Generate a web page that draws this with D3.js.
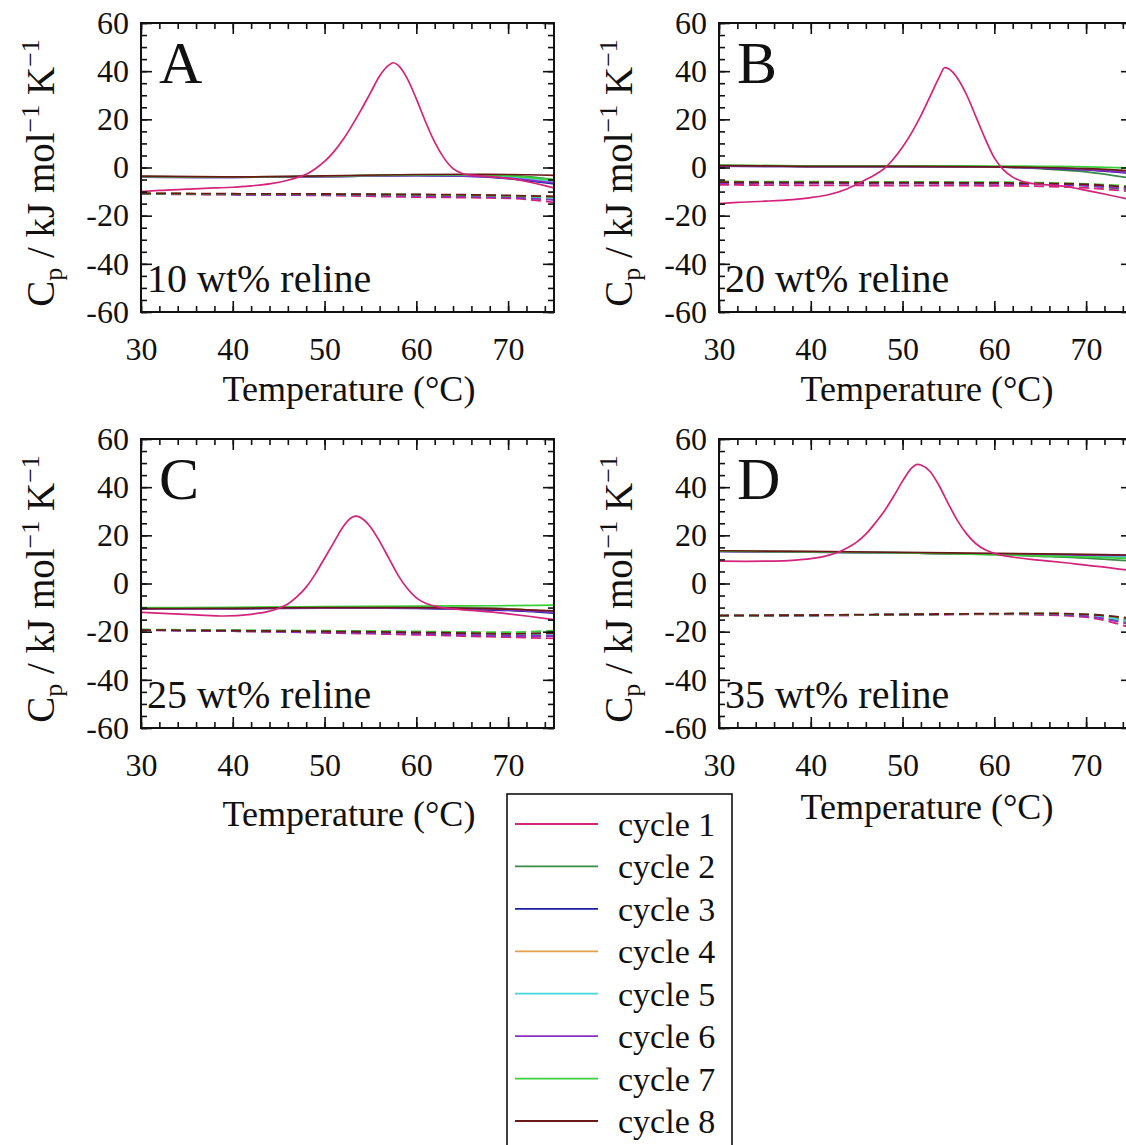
<!DOCTYPE html>
<html>
<head>
<meta charset="utf-8">
<script src="https://cdn.jsdelivr.net/npm/d3@7"></script>
<style>
body { margin: 0; background: #fff; }
text { font-family: "Liberation Serif", "Times New Roman", serif; fill: #111; }
</style>
</head>
<body>
<script>
// ---- data ----
var cycles = ["cycle 1", "cycle 2", "cycle 3", "cycle 4", "cycle 5", "cycle 6", "cycle 7", "cycle 8"];
var panelLetters = ["A", "B", "C", "D"];
var panelNotes = ["10 wt% reline", "20 wt% reline", "25 wt% reline", "35 wt% reline"];
var xTicks = [30, 40, 50, 60, 70];
var yTicks = [-60, -40, -20, 0, 20, 40, 60];

// temperatures for the flat curves (all cycles except heating of cycle 1)
var tempFlat = [30, 40, 50, 60, 65, 70, 75];

// panel A, 10 wt%
var tempPeakA = [30, 32, 35, 38, 40, 42, 44, 46, 47, 48, 49, 50, 51, 52, 53, 54, 55, 56, 57, 57.5, 58, 59, 60, 61, 62, 63, 64, 65, 66, 68, 70, 72, 74, 75];
var heat1A = [-10, -9.5, -9, -8.5, -8.2, -7.6, -6.8, -5.3, -4.2, -2.8, -0.5, 2.5, 6.5, 11.5, 17.5, 24, 31, 38, 42.5, 43.5, 42.5, 37, 28.5, 19, 10.5, 4, -0.5, -2.5, -3.2, -3.8, -4.5, -5.8, -7.5, -8.5];
var heatA = [
  [-3.8, -4.0, -3.6, -3.0, -3.0, -3.3, -5.0],
  [-4.0, -4.1, -3.8, -3.4, -3.6, -4.6, -6.8],
  [-3.9, -4.0, -3.7, -3.2, -3.2, -3.8, -5.5],
  [-3.9, -4.0, -3.7, -3.2, -3.3, -4.0, -6.0],
  [-4.0, -4.1, -3.8, -3.3, -3.5, -4.4, -6.4],
  [-3.8, -4.0, -3.6, -3.1, -3.1, -3.5, -5.2],
  [-3.6, -3.9, -3.5, -2.9, -2.8, -2.9, -3.3]
];
var coolA = [
  [-11.0, -11.3, -11.6, -12.3, -12.5, -12.8, -14.5],
  [-10.8, -11.0, -11.1, -11.3, -11.5, -11.8, -12.3],
  [-10.9, -11.1, -11.2, -11.5, -11.7, -12.0, -12.8],
  [-10.8, -11.0, -11.1, -11.4, -11.6, -11.9, -12.5],
  [-10.9, -11.1, -11.2, -11.5, -11.7, -12.1, -13.0],
  [-10.9, -11.2, -11.4, -11.8, -12.0, -12.4, -13.5],
  [-10.8, -11.0, -11.1, -11.3, -11.5, -11.8, -12.2],
  [-10.7, -10.9, -11.0, -11.2, -11.3, -11.6, -12.0]
];

// panel B, 20 wt%
var tempPeakB = [30, 32, 35, 38, 40, 42, 44, 45, 46, 47, 48, 49, 50, 51, 52, 53, 54, 54.6, 55, 56, 57, 58, 59, 60, 61, 62, 63, 64, 66, 68, 70, 72, 75];
var heat1B = [-15, -14.5, -14, -13.3, -12.5, -11.2, -8.8, -7, -5, -3, -0.5, 3.5, 8.5, 14.5, 21.5, 29.5, 37.5, 41.5, 41, 37, 30, 21, 12, 4, -1, -4, -5.7, -6.6, -7.3, -8, -9.5, -11, -13.5];
var heatB = [
  [0.8, 0.5, 0.5, 0.3, -0.5, -1.8, -4.5],
  [0.6, 0.4, 0.4, 0.2, -0.3, -1.0, -2.5],
  [0.7, 0.5, 0.5, 0.3, 0.0, -0.5, -1.5],
  [0.7, 0.5, 0.5, 0.3, 0.0, -0.6, -1.6],
  [0.6, 0.4, 0.4, 0.2, -0.2, -0.9, -2.2],
  [1.0, 0.7, 0.7, 0.6, 0.5, 0.3, -0.2],
  [0.8, 0.5, 0.5, 0.3, 0.0, -0.5, -1.4]
];
var coolB = [
  [-7.2, -7.4, -7.5, -7.6, -7.8, -8.5, -10.0],
  [-6.0, -6.1, -6.2, -6.3, -6.6, -7.5, -9.5],
  [-6.3, -6.4, -6.5, -6.6, -6.8, -7.2, -8.5],
  [-6.2, -6.3, -6.4, -6.5, -6.7, -7.1, -8.3],
  [-6.2, -6.3, -6.4, -6.5, -6.7, -7.2, -8.6],
  [-6.5, -6.6, -6.7, -6.8, -7.0, -7.6, -9.0],
  [-5.8, -5.9, -6.0, -6.1, -6.3, -6.8, -7.8],
  [-6.1, -6.2, -6.3, -6.4, -6.6, -7.0, -8.2]
];

// panel C, 25 wt%
var tempPeakC = [30, 33, 36, 39, 42, 44, 45, 46, 47, 48, 49, 50, 51, 52, 53, 53.5, 54, 55, 56, 57, 58, 59, 60, 61, 62, 64, 66, 68, 70, 72, 75];
var heat1C = [-12, -12.5, -13, -13.5, -12.8, -11.5, -10.3, -8.5, -5.5, -1.5, 4, 10.5, 17, 23.5, 27.5, 28, 27.2, 23.5, 17.5, 10.5, 3.5, -2, -6, -8.2, -9.4, -10.5, -11.2, -11.8, -12.6, -13.5, -15];
var heatC = [
  [-10.3, -10.2, -9.9, -9.8, -10.0, -10.5, -11.8],
  [-10.6, -10.5, -10.2, -10.3, -10.7, -11.2, -12.3],
  [-10.4, -10.3, -10.0, -10.0, -10.2, -10.6, -11.5],
  [-10.4, -10.3, -10.0, -10.0, -10.3, -10.8, -11.8],
  [-10.5, -10.4, -10.1, -10.2, -10.5, -11.0, -12.0],
  [-10.0, -9.9, -9.6, -9.4, -9.3, -9.2, -9.0],
  [-10.4, -10.3, -10.0, -10.0, -10.2, -10.6, -11.4]
];
var coolC = [
  [-19.3, -19.8, -20.5, -21.3, -21.8, -22.3, -22.8],
  [-19.2, -19.5, -19.8, -20.2, -20.5, -20.8, -20.5],
  [-19.3, -19.6, -20.0, -20.5, -20.8, -21.2, -21.0],
  [-19.3, -19.6, -19.9, -20.3, -20.6, -21.0, -20.8],
  [-19.3, -19.7, -20.0, -20.4, -20.7, -21.1, -21.0],
  [-19.4, -19.8, -20.3, -20.9, -21.3, -21.8, -21.8],
  [-19.1, -19.4, -19.6, -19.9, -20.1, -20.2, -19.5],
  [-19.3, -19.6, -19.9, -20.3, -20.6, -20.9, -20.6]
];

// panel D, 35 wt%
var tempPeakD = [30, 33, 36, 38, 40, 42, 43, 44, 45, 46, 47, 48, 49, 50, 51, 51.6, 52, 53, 54, 55, 56, 57, 58, 59, 60, 61, 62, 64, 66, 68, 70, 72, 75];
var heat1D = [9.3, 9.2, 9.3, 9.6, 10.3, 11.8, 13, 14.8, 17.2, 20.5, 25, 30, 36, 42.5, 48, 49.5, 49.2, 46.5, 40.5, 33, 26, 20.5, 16.5, 14, 12.5, 11.6, 11, 10, 9.3, 8.5, 7.6, 6.8, 5.3];
var heatD = [
  [13.4, 13.1, 12.7, 12.0, 11.3, 10.5, 9.3],
  [13.3, 13.0, 12.7, 12.2, 12.0, 11.8, 11.5],
  [13.4, 13.1, 12.7, 12.1, 11.7, 11.3, 10.8],
  [13.4, 13.1, 12.7, 12.1, 11.8, 11.4, 11.0],
  [13.3, 13.0, 12.7, 12.2, 12.0, 11.8, 11.6],
  [13.4, 13.1, 12.7, 12.0, 11.5, 11.0, 10.3],
  [13.6, 13.3, 12.9, 12.5, 12.3, 12.1, 11.8]
];
var coolD = [
  [-13.5, -13.3, -13.0, -12.8, -13.0, -14.0, -18.5],
  [-13.4, -13.2, -12.9, -12.6, -12.6, -13.3, -16.5],
  [-13.4, -13.2, -12.9, -12.6, -12.6, -13.0, -15.5],
  [-13.4, -13.2, -12.9, -12.6, -12.5, -12.9, -15.0],
  [-13.4, -13.2, -12.9, -12.6, -12.6, -13.2, -16.0],
  [-13.5, -13.3, -13.0, -12.7, -12.8, -13.6, -17.2],
  [-13.4, -13.2, -12.9, -12.6, -12.5, -12.8, -14.8],
  [-13.3, -13.1, -12.8, -12.5, -12.4, -12.8, -14.5]
];

// ---- layout ----
var WIDTH = 1126, HEIGHT = 1145;
var PLOT_W = 413, PLOT_H = 289;
var panelOrigins = [[141, 23], [719, 23], [141, 439], [719, 439]];
var xTitleY = [401, 401, 826, 819];

var color = d3.scaleOrdinal()
  .domain(cycles)
  .range(["#d4237a", "#3b8a48", "#1c1c9c", "#e3a04c", "#44d6de", "#8b2fc4", "#37d03a", "#6b1818"]);

var panelData = [
  { tPeak: tempPeakA, peak: heat1A, heat: heatA, cool: coolA },
  { tPeak: tempPeakB, peak: heat1B, heat: heatB, cool: coolB },
  { tPeak: tempPeakC, peak: heat1C, heat: heatC, cool: coolC },
  { tPeak: tempPeakD, peak: heat1D, heat: heatD, cool: coolD }
];

var svg = d3.select('body').append('svg')
  .attr('width', WIDTH)
  .attr('height', HEIGHT);

var x = d3.scaleLinear().domain([30, 75]).range([0, PLOT_W]);
var y = d3.scaleLinear().domain([-60, 60]).range([PLOT_H, 0]);

var line = d3.line()
  .x(function (d) { return x(d[0]); })
  .y(function (d) { return y(d[1]); })
  .curve(d3.curveMonotoneX);

var pairs = function (ts, vs) { return ts.map(function (t, i) { return [t, vs[i]]; }); };
var plainNumber = function (d) { return String(d); }; // the figure uses a hyphen for minus

panelData.forEach(function (pd, p) {
  var g = svg.append('g')
    .attr('transform', 'translate(' + panelOrigins[p][0] + ',' + panelOrigins[p][1] + ')');

  var clipId = 'clip' + p;
  g.append('clipPath').attr('id', clipId)
    .append('rect').attr('width', PLOT_W).attr('height', PLOT_H);

  var curves = g.append('g').attr('clip-path', 'url(#' + clipId + ')');

  // cooling scans (dashed), then heating scans, cycle 1 on top
  pd.cool.forEach(function (vals, i) {
    curves.append('path')
      .attr('d', line(pairs(tempFlat, vals)))
      .attr('fill', 'none')
      .attr('stroke', color(cycles[i]))
      .attr('stroke-width', 1.8)
      .attr('stroke-dasharray', '10,5');
  });
  pd.heat.forEach(function (vals, i) {
    curves.append('path')
      .attr('d', line(pairs(tempFlat, vals)))
      .attr('fill', 'none')
      .attr('stroke', color(cycles[i + 1]))
      .attr('stroke-width', 1.7);
  });
  curves.append('path')
    .attr('d', line(pairs(pd.tPeak, pd.peak)))
    .attr('fill', 'none')
    .attr('stroke', color(cycles[0]))
    .attr('stroke-width', 1.7);

  // ticks pointing inward on all four sides
  var minorX = d3.range(30, 76, 2), minorY = d3.range(-60, 61, 5);
  g.append('g').attr('transform', 'translate(0,' + PLOT_H + ')')
    .call(d3.axisBottom(x).tickValues(minorX).tickSize(-6).tickFormat(''));
  g.append('g').attr('class', 'x-labels').attr('transform', 'translate(0,' + PLOT_H + ')')
    .call(d3.axisBottom(x).tickValues(xTicks).tickSize(-11).tickPadding(18).tickFormat(plainNumber));
  g.append('g')
    .call(d3.axisTop(x).tickValues(minorX).tickSize(-6).tickFormat(''));
  g.append('g')
    .call(d3.axisTop(x).tickValues(xTicks).tickSize(-11).tickFormat(''));
  g.append('g')
    .call(d3.axisLeft(y).tickValues(minorY).tickSize(-6).tickFormat(''));
  g.append('g')
    .call(d3.axisLeft(y).tickValues(yTicks).tickSize(-11).tickPadding(12).tickFormat(plainNumber));
  g.append('g').attr('transform', 'translate(' + PLOT_W + ',0)')
    .call(d3.axisRight(y).tickValues(minorY).tickSize(-6).tickFormat(''));
  g.append('g').attr('transform', 'translate(' + PLOT_W + ',0)')
    .call(d3.axisRight(y).tickValues(yTicks).tickSize(-11).tickFormat(''));

  g.selectAll('.domain').remove();
  g.selectAll('.tick line').attr('stroke', '#111').attr('stroke-width', 1.6);
  g.selectAll('.tick text')
    .attr('font-size', 32)
    .attr('font-family', '"Liberation Serif", serif')
    .attr('fill', '#111');
  g.selectAll('.x-labels .tick text').attr('dy', '0.95em');

  g.append('rect')
    .attr('width', PLOT_W)
    .attr('height', PLOT_H)
    .attr('fill', 'none')
    .attr('stroke', '#111')
    .attr('stroke-width', 2);

  // panel letter and composition note
  g.append('text')
    .attr('x', 18)
    .attr('y', 60)
    .attr('font-size', 60)
    .text(panelLetters[p]);
  g.append('text')
    .attr('x', 6)
    .attr('y', 269)
    .attr('font-size', 40)
    .text(panelNotes[p]);

  // axis titles
  svg.append('text')
    .attr('x', panelOrigins[p][0] + 208)
    .attr('y', xTitleY[p])
    .attr('text-anchor', 'middle')
    .attr('font-size', 36)
    .text('Temperature (°C)');

  var yt = svg.append('text')
    .attr('transform', 'translate(' + (panelOrigins[p][0] - 87) + ',' + (panelOrigins[p][1] + 150) + ') rotate(-90)')
    .attr('text-anchor', 'middle')
    .attr('font-size', 39);
  yt.append('tspan').text('C');
  yt.append('tspan').attr('dy', 8).attr('font-size', 26).text('p');
  yt.append('tspan').attr('dy', -8).text(' / kJ mol');
  yt.append('tspan').attr('dy', -15).attr('font-size', 26).text('\u22121');
  yt.append('tspan').attr('dy', 15).text(' K');
  yt.append('tspan').attr('dy', -15).attr('font-size', 26).text('\u22121');
});

// ---- legend ----
var legend = svg.append('g').attr('transform', 'translate(507,794)');
legend.append('rect')
  .attr('width', 225)
  .attr('height', 370)
  .attr('fill', '#fff')
  .attr('stroke', '#111')
  .attr('stroke-width', 1.6);

var legendY = d3.scalePoint().domain(cycles).range([30, 327]);
var items = legend.selectAll('g.item')
  .data(cycles)
  .enter()
  .append('g')
  .attr('class', 'item')
  .attr('transform', function (d) { return 'translate(0,' + legendY(d) + ')'; });
items.append('line')
  .attr('x1', 8).attr('x2', 91)
  .attr('stroke', function (d) { return color(d); })
  .attr('stroke-width', 1.8);
items.append('text')
  .attr('x', 111)
  .attr('y', 12)
  .attr('font-size', 34)
  .text(function (d) { return d; });
</script>
</body>
</html>
